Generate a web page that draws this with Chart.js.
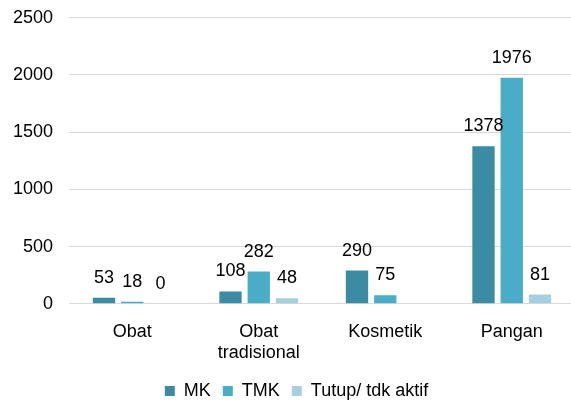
<!DOCTYPE html>
<html>
<head>
<meta charset="utf-8">
<script src="https://cdn.jsdelivr.net/npm/chart.js@4/dist/chart.umd.min.js"></script>
<style>
  html, body { margin: 0; padding: 0; background: #fff; overflow: hidden; }
  #wrap { width: 576px; height: 422px; margin-top: -9px; }
</style>
</head>
<body>
<div id="wrap"><canvas id="myChart"></canvas></div>
<script>
// data
const categories = ['Obat', ['Obat', 'tradisional'], 'Kosmetik', 'Pangan'];
const mk = [53, 108, 290, 1378];
const tmk = [18, 282, 75, 1976];
const tutup = [0, 48, null, 81];
const yTicks = [0, 500, 1000, 1500, 2000, 2500];

const font = "'Liberation Sans', Arial, sans-serif";

// draws the value above every bar
const barLabels = {
    id: 'barLabels',
    afterDatasetsDraw(chart) {
        const ctx = chart.ctx;
        ctx.save();
        ctx.font = '18px ' + font;
        ctx.fillStyle = '#000';
        ctx.textAlign = 'center';
        ctx.textBaseline = 'bottom';
        chart.data.datasets.forEach((ds, i) => {
            chart.getDatasetMeta(i).data.forEach((bar, j) => {
                const v = ds.data[j];
                if (v === null || v === undefined) return;
                ctx.fillText(String(v), bar.x, bar.y - 11);
            });
        });
        ctx.restore();
    }
};

// legend sits a bit right of centre and a bit higher in the original
const legendShift = {
    id: 'legendShift',
    afterLayout(chart) {
        chart.legend.left += 7;
        chart.legend.right += 7;
        chart.legend.top -= 3;
        chart.legend.bottom -= 3;
    }
};

const ctx = document.getElementById('myChart').getContext('2d');
const chart = new Chart(ctx, {
    type: 'bar',
    data: {
        labels: categories,
        datasets: [
            { label: 'MK', data: mk, backgroundColor: '#3b8ba2' },
            { label: 'TMK', data: tmk, backgroundColor: '#4aadc7' },
            { label: 'Tutup/ tdk aktif', data: tutup, backgroundColor: '#a6d0de' }
        ]
    },
    options: {
        responsive: true,
        maintainAspectRatio: false,
        animation: false,
        layout: { padding: { top: 0, right: 1, left: 4, bottom: 0 } },
        datasets: {
            bar: { barPercentage: 0.79, categoryPercentage: 0.67 }
        },
        scales: {
            x: {
                grid: { display: false },
                border: { display: false },
                ticks: { color: '#000', font: { family: font, size: 18 }, padding: 9 }
            },
            y: {
                min: 0,
                max: 2500,
                afterBuildTicks: (axis) => { axis.ticks = yTicks.map(v => ({ value: v })); },
                afterFit: (axis) => { axis.width = 65; },
                grid: { color: '#d9d9d9', lineWidth: 1, drawTicks: false },
                border: { display: false },
                ticks: {
                    color: '#000',
                    font: { family: font, size: 18 },
                    padding: 16,
                    callback: (v) => String(v)
                }
            }
        },
        plugins: {
            legend: {
                position: 'bottom',
                labels: {
                    color: '#000',
                    font: { family: font, size: 18 },
                    boxWidth: 10,
                    boxHeight: 10,
                    padding: 12
                }
            },
            tooltip: { enabled: false }
        }
    },
    plugins: [barLabels, legendShift]
});
</script>
</body>
</html>
